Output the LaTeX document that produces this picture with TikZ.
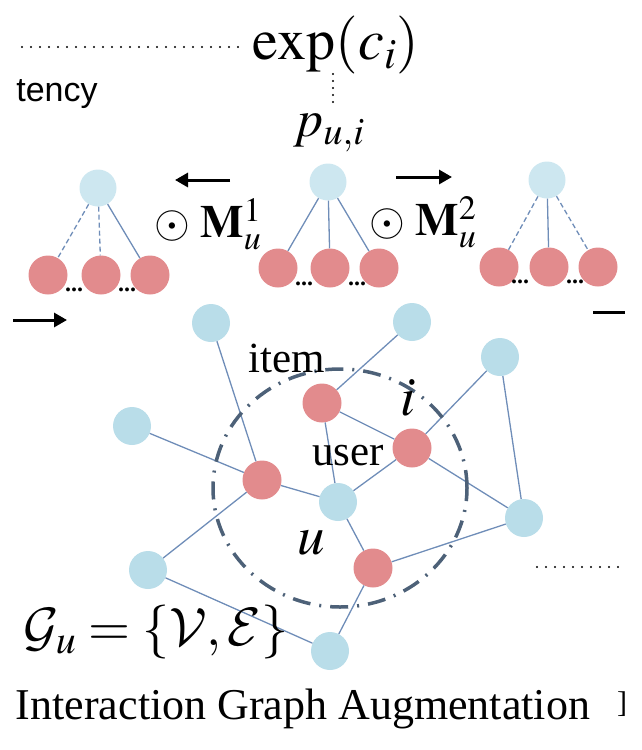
\RequirePackage{fix-cm}
\documentclass[tikz,border=0pt]{standalone}
\usepackage{mathptmx}
\usepackage[no-math]{fontspec}
\setmainfont{Liberation Serif}
\newfontfamily\sansfnt{Liberation Sans}
\DeclareMathAlphabet{\mathcal}{OMS}{cmsy}{m}{n}
\usetikzlibrary{arrows.meta,shapes.geometric}
\definecolor{nblue}{HTML}{B9DDE9}
\definecolor{tblue}{HTML}{CDE7F0}
\definecolor{nred}{HTML}{E28B8D}
\definecolor{ecol}{HTML}{6F8DB8}
\definecolor{ringcol}{HTML}{4D6178}
\tikzset{
  bnode/.style={circle, fill=nblue, minimum size=38pt, inner sep=0pt},
  tnode/.style={circle, fill=tblue, minimum size=37pt, inner sep=0pt},
  rnode/.style={circle, fill=nred, minimum size=39pt, inner sep=0pt},
  gedge/.style={draw=ecol, line width=1.3pt},
  dgedge/.style={gedge, dash pattern=on 5pt off 3pt},
  bigarrow/.style={-{Triangle[length=13pt,width=14pt]}, line width=3pt},
  dotline/.style={line width=2.2pt, line cap=round, dash pattern=on 0pt off 9pt},
  lbl/.style={inner sep=0pt, font=\fontsize{43}{48}\selectfont},
  mlbl/.style={inner sep=0pt, font=\fontsize{55}{60}\selectfont},
  ell/.style={inner sep=0pt, font=\bfseries\fontsize{24}{26}\selectfont},
}
\begin{document}
\begin{tikzpicture}[x=1pt,y=-1pt]
\useasboundingbox (0,0) rectangle (642,750);
% top formula
\coordinate (dl1) at (22,47);
\coordinate (dl2) at (240,47);
\draw[dotline] (dl1) -- (dl2);
\node[inner sep=0pt, font=\fontsize{58}{62}\selectfont] (expc) at (336,45) {$\exp(c_i)$};
\coordinate (vd1) at (333,74);
\coordinate (vd2) at (333,106);
\draw[dotline, dash pattern=on 0pt off 7pt] (vd1) -- (vd2);
\node[inner sep=0pt, font=\sansfnt\fontsize{34}{38}\selectfont] (tency) at (57,94) {tency};
\node[inner sep=0pt, font=\fontsize{52}{56}\selectfont] (pui) at (329,133) {$p_{u,i}$};

% left tree
\node[tnode] (lt) at (98,188) {};
\node[rnode] (lr1) at (48,275) {};
\node[rnode] (lr2) at (101,275) {};
\node[rnode] (lr3) at (150,275) {};
\draw[dgedge] (lt) -- (lr1);
\draw[dgedge] (lt) -- (lr2);
\draw[gedge] (lt) -- (lr3);
\node[ell] (ld1) at (74,290) {...};
\node[ell] (ld2) at (127,290) {...};
% middle tree
\node[tnode] (mt) at (328,182) {};
\node[rnode] (mr1) at (278,268) {};
\node[rnode] (mr2) at (330,268) {};
\node[rnode] (mr3) at (379,268) {};
\draw[gedge] (mt) -- (mr1);
\draw[gedge] (mt) -- (mr2);
\draw[gedge] (mt) -- (mr3);
\node[ell] (md1) at (304,284) {...};
\node[ell] (md2) at (357,284) {...};
% right tree
\node[tnode] (rt) at (547,180) {};
\node[rnode] (rr1) at (499,267) {};
\node[rnode] (rr2) at (549,267) {};
\node[rnode] (rr3) at (598,267) {};
\draw[dgedge] (rt) -- (rr1);
\draw[gedge] (rt) -- (rr2);
\draw[dgedge] (rt) -- (rr3);
\node[ell] (rd1) at (520,282) {...};
\node[ell] (rd2) at (575,282) {...};

% masks
\node[inner sep=0pt, font=\fontsize{46}{50}\selectfont] (m1) at (208,224) {$\odot\;\mathbf{M}_u^1$};
\node[inner sep=0pt, font=\fontsize{46}{50}\selectfont] (m2) at (423,222) {$\odot\;\mathbf{M}_u^2$};

% arrows
\coordinate (a1s) at (230,180);
\coordinate (a1e) at (175,180);
\draw[bigarrow] (a1s) -- (a1e);
\coordinate (a2s) at (396,177);
\coordinate (a2e) at (452,177);
\draw[bigarrow] (a2s) -- (a2e);
\coordinate (a3s) at (13,320);
\coordinate (a3e) at (67,320);
\draw[bigarrow] (a3s) -- (a3e);
\coordinate (b1) at (593,312);
\coordinate (b2) at (625,312);
\draw[line width=3pt] (b1) -- (b2);

% bottom graph
\node[bnode] (g1) at (211,323) {};
\node[bnode] (g2) at (412,322) {};
\node[bnode] (g3) at (500,357) {};
\node[bnode] (g4) at (132,426) {};
\node[rnode] (g5) at (322,403) {};
\node[rnode] (g6) at (412,448) {};
\node[rnode] (g7) at (262,480) {};
\node[bnode] (g8) at (338,502) {};
\node[bnode] (g9) at (524,518) {};
\node[bnode] (g10) at (148,570) {};
\node[rnode] (g11) at (373,568) {};
\node[bnode] (g12) at (330,651) {};
\draw[gedge] (g1) -- (g7);
\draw[gedge] (g2) -- (g5);
\draw[gedge] (g3) -- (g6);
\draw[gedge] (g3) -- (g9);
\draw[gedge] (g4) -- (g7);
\draw[gedge] (g5) -- (g8);
\draw[gedge] (g5) -- (g6);
\draw[gedge] (g6) -- (g8);
\draw[gedge] (g6) -- (g9);
\draw[gedge] (g7) -- (g8);
\draw[gedge] (g7) -- (g10);
\draw[gedge] (g8) -- (g11);
\draw[gedge] (g9) -- (g11);
\draw[gedge] (g11) -- (g12);
\draw[gedge] (g10) -- (g12);
\node[ellipse, draw=ringcol, line width=3.5pt, minimum width=254pt, minimum height=238pt, inner sep=0pt,
  dash pattern=on 18pt off 9pt on 2pt off 9pt] (ring) at (340,488) {};

% labels
\node[lbl] (item) at (287,358) {item};
\node[lbl] (user) at (348,456) {user};
\node[mlbl] (ilbl) at (408,398) {$i$};
\node[mlbl] (ulbl) at (311,543) {$u$};
\coordinate (rd1s) at (537,567);
\coordinate (rd1e) at (619,567);
\draw[dotline] (rd1s) -- (rd1e);
\node[inner sep=0pt, font=\fontsize{54}{58}\selectfont] (gu) at (156,632) {$\mathcal{G}_u=\{\mathcal{V},\mathcal{E}\}$};
\node[inner sep=0pt, font=\fontsize{44}{48}\selectfont] (title) at (303,709) {Interaction Graph Augmentation};
\node[inner sep=0pt, font=\fontsize{30}{34}\selectfont] (brk) at (622,704) {]};
\end{tikzpicture}
\end{document}
